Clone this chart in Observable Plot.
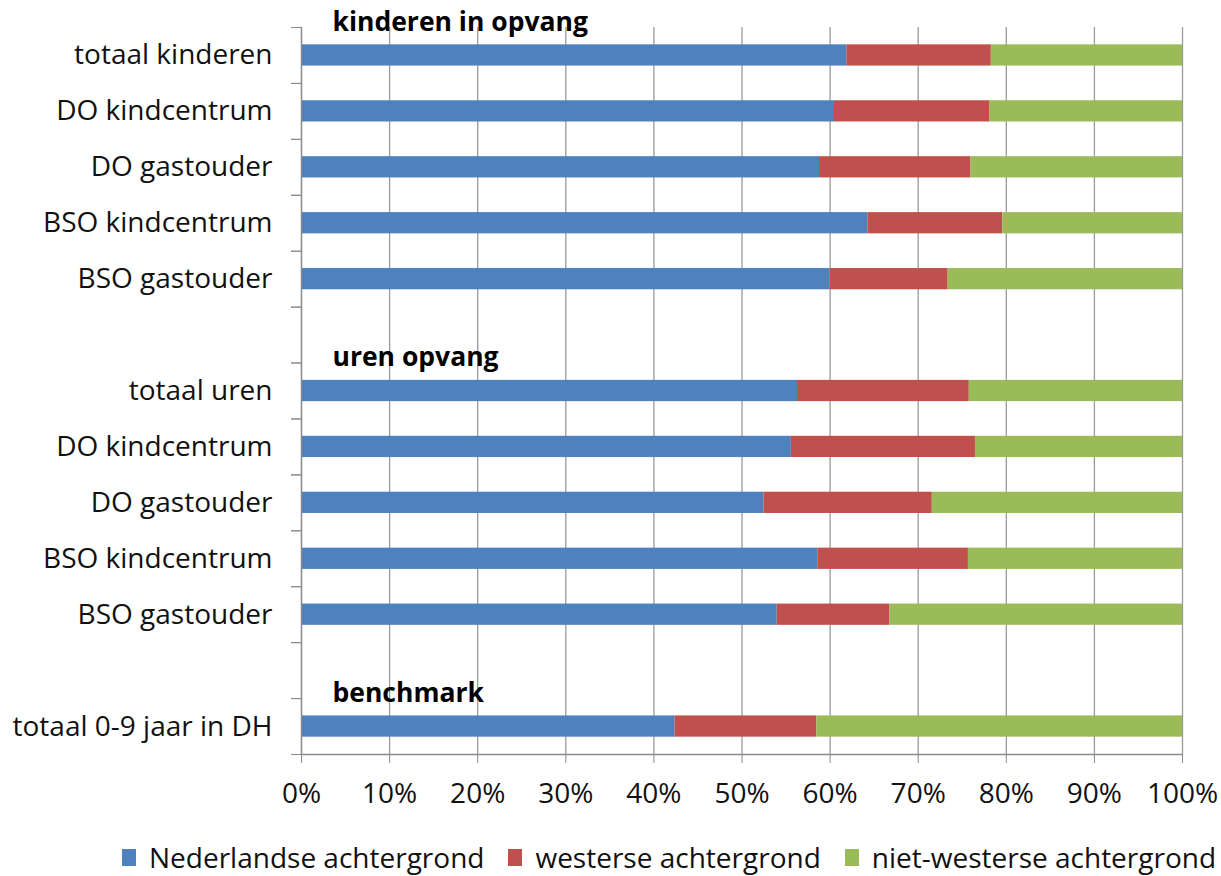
<!DOCTYPE html>
<html>
<head>
<meta charset="utf-8">
<script src="https://cdn.jsdelivr.net/npm/d3@7"></script>
<script src="https://cdn.jsdelivr.net/npm/@observablehq/plot@0.6"></script>
<style>
  html, body { margin: 0; padding: 0; background: #fff; }
  body { width: 1221px; height: 876px; overflow: hidden; font-family: "Open Sans", Lato, sans-serif; }
  #legend { display: flex; align-items: center; margin-left: 122px; margin-top: 20px; font-size: 28px; line-height: 34px; color: #111; white-space: nowrap; }
  #legend .item { display: flex; align-items: center; margin-right: 24px; }
  #legend .sw { width: 14px; height: 17px; margin-right: 13px; }
</style>
</head>
<body>
<div id="chart"></div>
<div id="legend"></div>
<script>
// Row labels (blank strings = empty spacer rows)
const rowLabels = ["totaal kinderen", "DO kindcentrum", "DO gastouder", "BSO kindcentrum", "BSO gastouder", "",
  "totaal uren", "DO kindcentrum", "DO gastouder", "BSO kindcentrum", "BSO gastouder", "",
  "totaal 0-9 jaar in DH"];
// Series
const seriesNames = ["Nederlandse achtergrond", "westerse achtergrond", "niet-westerse achtergrond"];
const seriesColors = ["#4F81BD", "#C0504D", "#9BBB59"];
// Values in % (null for spacer rows)
const nederlands = [61.9, 60.5, 58.8, 64.3, 60.0, null, 56.3, 55.6, 52.5, 58.6, 54.0, null, 42.4];
const westers    = [16.4, 17.6, 17.2, 15.3, 13.4, null, 19.5, 20.9, 19.1, 17.1, 12.8, null, 16.1];
const nietWesters= [21.7, 21.9, 24.0, 20.4, 26.6, null, 24.2, 23.5, 28.4, 24.3, 33.2, null, 41.5];
// Section headings and the row they sit above
const sectionLabels = ["kinderen in opvang", "uren opvang", "benchmark"];
const sectionRows = [0, 6, 12];
// X ticks
const xTicks = [0, 10, 20, 30, 40, 50, 60, 70, 80, 90, 100];

const rowIds = rowLabels.map((l, i) => "r" + i);
const labelById = new Map(rowIds.map((id, i) => [id, rowLabels[i]]));
const seriesValues = [nederlands, westers, nietWesters];
const data = [];
rowIds.forEach((id, i) => {
  seriesValues.forEach((vals, s) => {
    if (vals[i] != null) data.push({row: id, series: seriesNames[s], value: vals[i]});
  });
});
const sections = sectionLabels.map((label, k) => ({label, row: rowIds[sectionRows[k]]}));

const chart = Plot.plot({
  width: 1221,
  height: 820,
  marginLeft: 301,
  marginRight: 39,
  marginTop: 27,
  marginBottom: 66,
  style: {fontFamily: "'Open Sans', Lato, sans-serif", fontSize: "28px", color: "#111", background: "#fff"},
  x: {domain: [0, 100]},
  y: {domain: rowIds, paddingInner: 0.62, paddingOuter: 0.31, round: false},
  color: {domain: seriesNames, range: seriesColors},
  marks: [
    Plot.gridX({ticks: xTicks, stroke: "#9a9a9a", strokeOpacity: 1, strokeWidth: 1.3}),
    Plot.barX(data, {x: "value", y: "row", fill: "series", order: seriesNames}),
    Plot.frame({anchor: "left", stroke: "#8a8a8a", strokeOpacity: 1, strokeWidth: 1.3}),
    Plot.frame({anchor: "bottom", stroke: "#8a8a8a", strokeOpacity: 1, strokeWidth: 1.3}),
    Plot.axisY({tickSize: 10, tickFormat: () => "", label: null, dy: -28, stroke: "#8a8a8a", strokeOpacity: 1}),
    Plot.axisY({tickSize: 10, tickFormat: () => "", label: null, dy: 28, stroke: "#8a8a8a", strokeOpacity: 1}),
    Plot.axisY({tickSize: 0, tickPadding: 29, label: null, tickFormat: d => labelById.get(d), fontSize: 28, fill: "#111"}),
    Plot.axisX({ticks: xTicks, label: null, tickFormat: d => d + "%", tickSize: 9, tickPadding: 20, fontSize: 28, stroke: "#8a8a8a", strokeOpacity: 1, fill: "#111"}),
    Plot.text(sections, {y: "row", text: "label", frameAnchor: "left", dx: 31, dy: -33, textAnchor: "start", fontWeight: "bold", fontSize: 26.5, fill: "#000"})
  ]
});
document.getElementById("chart").appendChild(chart);

const legend = document.getElementById("legend");
seriesNames.forEach((name, i) => {
  const item = document.createElement("div");
  item.className = "item";
  const sw = document.createElement("span");
  sw.className = "sw";
  sw.style.background = seriesColors[i];
  const t = document.createElement("span");
  t.textContent = name;
  item.appendChild(sw);
  item.appendChild(t);
  legend.appendChild(item);
});
</script>
</body>
</html>
